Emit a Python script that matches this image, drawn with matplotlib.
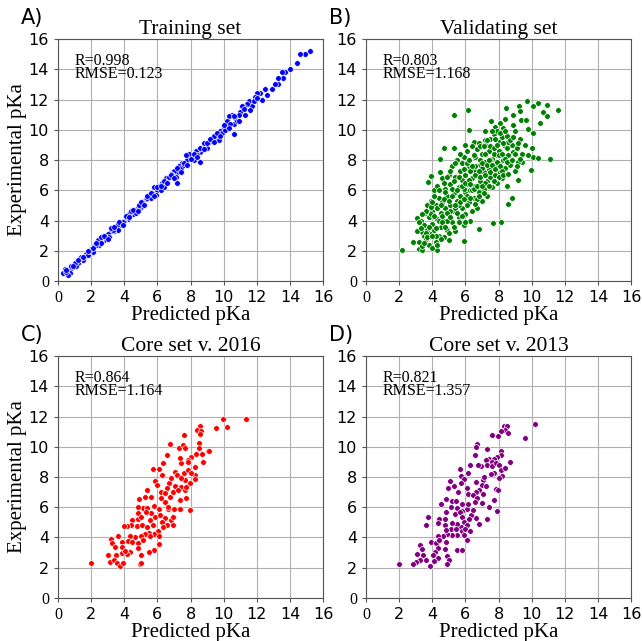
import numpy as np
import matplotlib
matplotlib.use("Agg")
import matplotlib.pyplot as plt

# ---- data (predicted, experimental) ----
train_x = [15.2, 14.9, 14.6, 14.4, 14.0, 13.7, 13.5, 13.6, 13.3, 13.3, 13.1, 12.9, 12.5, 12.6, 12.2,
           12.0, 11.9, 11.7, 11.5, 11.4, 11.2, 11.1, 11.0, 10.9, 10.7, 10.5, 10.3, 10.2, 10.6, 10.4,
           10.0, 9.8, 9.6, 9.5, 9.7, 9.3, 9.1, 8.9, 8.6, 8.5, 8.3, 8.1, 7.9, 7.8, 7.7, 7.5, 7.3, 7.2,
           7.0, 6.9, 6.8, 6.6, 6.5, 6.3, 6.1, 6.0, 5.8, 5.7, 5.6, 5.5, 5.3, 5.1, 5.0, 4.8, 4.6, 4.5,
           4.3, 4.2, 4.0, 3.9, 3.7, 3.5, 3.4, 3.2, 3.0, 2.9, 2.8, 2.6, 2.5, 2.4, 2.2, 2.0, 1.9, 1.7,
           1.6, 1.5, 1.3, 1.2, 1.0, 0.9, 0.7, 0.7, 0.6, 0.4, 0.3,
           10.6, 8.6, 7.2, 11.8, 10.8, 9.9, 9.0, 8.8, 8.2, 7.4, 7.1, 6.7, 6.2, 5.9, 5.4, 5.2, 4.9,
           4.4, 4.1, 3.8, 3.6, 3.3, 3.1, 2.7, 2.3, 2.1, 1.8, 1.4, 1.1, 0.8, 12.3, 11.3, 10.1, 9.4,
           8.4, 7.6, 6.4, 5.6, 4.7, 3.6, 2.6, 1.9, 1.0, 0.5,
           0.5, 0.9, 1.2, 1.5, 1.8, 2.1, 2.3, 2.6, 2.8, 3.0, 3.2, 3.4, 3.7, 3.9, 4.1, 4.3, 4.5, 4.8,
           5.0, 5.2, 5.4, 5.6, 5.8, 6.0, 6.2, 6.4, 6.6, 6.8, 7.0, 7.2, 7.4, 7.6, 7.8, 8.0, 8.2, 8.4,
           8.6, 8.8, 9.0, 9.2, 9.4, 9.6, 9.8, 10.0, 10.3, 10.6, 10.9, 11.2, 11.6, 12.0]
train_y = [15.2, 15.0, 15.0, 14.4, 14.0, 13.8, 13.8, 13.4, 13.4, 13.0, 13.0, 12.7, 12.7, 12.3, 12.4,
           12.4, 12.2, 11.6, 11.9, 11.7, 11.5, 11.6, 11.2, 11.0, 10.8, 11.0, 10.9, 10.6, 10.4, 10.4,
           10.2, 9.9, 9.7, 9.5, 9.3, 9.3, 9.2, 9.0, 8.5, 8.7, 8.6, 8.2, 8.4, 8.0, 8.3, 7.8, 7.6, 7.2,
           7.3, 7.0, 7.1, 6.7, 6.8, 6.5, 6.3, 6.0, 6.2, 5.8, 5.6, 5.7, 5.4, 5.2, 4.9, 4.8, 4.7, 4.4,
           4.4, 4.1, 4.0, 3.9, 3.7, 3.6, 3.3, 3.3, 3.1, 2.9, 2.7, 2.6, 2.4, 2.7, 2.3, 2.1, 1.9, 1.8,
           1.6, 1.4, 1.5, 1.2, 1.1, 0.9, 0.8, 0.5, 0.4, 0.8, 0.5,
           9.7, 7.9, 6.5, 11.9, 10.6, 9.8, 8.8, 9.1, 8.0, 7.5, 6.9, 6.9, 6.0, 5.7, 5.5, 5.0, 5.0,
           4.6, 4.2, 3.7, 3.4, 3.4, 2.9, 2.9, 2.4, 1.9, 1.7, 1.6, 1.0, 1.0, 12.0, 11.0, 10.0, 9.6,
           8.3, 7.7, 6.2, 5.5, 4.5, 3.8, 2.5, 2.0, 1.2, 0.6,
           0.7, 1.0, 1.4, 1.6, 2.0, 2.2, 2.5, 2.9, 3.0, 2.8, 3.5, 3.6, 3.9, 3.7, 4.3, 4.2, 4.7, 4.6,
           5.2, 5.0, 5.6, 5.8, 5.6, 6.2, 6.3, 6.6, 6.5, 7.0, 6.8, 7.5, 7.2, 7.8, 7.7, 8.1, 8.4, 8.2,
           8.8, 8.7, 9.1, 9.4, 9.2, 9.8, 9.6, 10.3, 10.1, 10.9, 10.6, 11.4, 11.3, 12.1]

valid_x = [2.16, 9.7, 10.36, 10.9, 10.06, 11.6, 10.7, 10.92, 10.5, 5.3, 6.18, 8.48, 9.24, 9.28,
           8.88, 8.4, 10.1, 6.2, 9.36, 9.64, 9.8, 7.56, 7.16, 7.8, 8.1, 8.9, 4.74, 5.34, 6.0, 6.54,
           6.9, 7.2, 10.04, 10.06, 10.4, 11.12, 9.94, 9.44, 9.2, 8.8, 8.6, 8.16, 7.64, 6.8, 5.9,
           4.46, 4.46, 3.94, 3.76, 3.06, 2.84, 3.2, 3.36, 4.3, 3.54, 3.4,
           3.1, 3.2, 3.3, 3.4, 3.5, 3.5, 3.6, 3.6, 3.7, 3.7, 3.8, 3.8, 3.9, 3.9, 4.0, 4.0, 4.0, 4.1,
           4.1, 4.2, 4.2, 4.3, 4.3, 4.4, 4.4, 4.5, 4.5, 4.6, 4.6, 4.7, 4.7, 4.8, 4.8, 4.9, 4.9, 5.0,
           5.0, 5.0, 5.1, 5.1, 5.2, 5.2, 5.3, 5.3, 5.4, 5.4, 5.5, 5.5, 5.6, 5.6, 5.7, 5.7, 5.8, 5.8,
           5.9, 5.9, 6.0, 6.0, 6.0, 6.1, 6.1, 6.2, 6.2, 6.3, 6.3, 6.4, 6.4, 6.5, 6.5, 6.6, 6.6, 6.7,
           6.7, 6.8, 6.8, 6.9, 6.9, 7.0, 7.0, 7.1, 7.1, 7.2, 7.2, 7.3, 7.3, 7.4, 7.4, 7.5, 7.5, 7.6,
           7.6, 7.7, 7.7, 7.8, 7.8, 7.9, 7.9, 8.0, 8.0, 8.1, 8.1, 8.2, 8.2, 8.3, 8.3, 8.4, 8.4, 8.5,
           8.5, 8.6, 8.7, 8.8, 8.9, 9.0, 9.0, 9.1, 9.2, 9.3, 9.4, 9.6, 9.8, 3.3, 3.9, 4.4, 4.9, 5.6,
           6.1, 6.6, 7.0, 7.5, 5.4, 4.2, 6.9, 5.8, 6.3, 4.6, 5.2, 7.9, 6.4, 7.2, 8.6, 4.0, 3.6, 5.9,
           6.7, 7.7, 5.1, 4.8, 8.0,
           3.2, 3.4, 3.5, 3.7, 3.8, 3.9, 4.0, 4.1, 4.1, 4.2, 4.3, 4.3, 4.4, 4.5, 4.5, 4.6, 4.7, 4.7,
           4.8, 4.9, 4.9, 5.0, 5.0, 5.1, 5.1, 5.2, 5.3, 5.3, 5.4, 5.4, 5.5, 5.5, 5.6, 5.6, 5.7, 5.7,
           5.8, 5.8, 5.9, 5.9, 6.0, 6.0, 6.1, 6.1, 6.2, 6.2, 6.3, 6.3, 6.4, 6.4, 6.5, 6.5, 6.6, 6.6,
           6.7, 6.7, 6.8, 6.8, 6.9, 6.9, 7.0, 7.0, 7.1, 7.1, 7.2, 7.2, 7.3, 7.3, 7.4, 7.4, 7.5, 7.5,
           7.6, 7.6, 7.7, 7.7, 7.8, 7.8, 7.9, 7.9, 8.0, 8.0, 8.1, 8.1, 8.2, 8.2, 8.3, 8.3, 8.4, 8.4,
           8.5, 8.5, 8.6, 8.7, 8.8, 8.9, 9.0, 9.1, 9.2, 9.3]
valid_y = [2.02, 11.9, 11.74, 11.67, 11.6, 11.3, 11.19, 10.9, 10.46, 11.0, 11.34, 11.45, 11.56,
           11.23, 11.0, 10.68, 9.76, 10.0, 10.64, 10.62, 10.02, 10.57, 9.91, 10.2, 10.42, 10.3,
           8.81, 8.77, 8.99, 9.2, 8.88, 9.32, 8.77, 8.18, 8.15, 8.04, 7.36, 7.89, 6.68, 5.52, 5.08,
           3.91, 3.85, 3.43, 2.66, 8.04, 7.23, 6.95, 6.53, 4.15, 2.55, 2.11, 2.07, 2.07, 4.47, 3.27,
           3.3, 2.6, 4.0, 2.3, 3.0, 3.7, 4.6, 2.8, 3.4, 5.0, 2.4, 4.2, 3.1, 5.3, 2.2, 3.8, 4.6, 6.0,
           3.4, 2.6, 5.0, 4.1, 6.3, 3.0, 5.5, 4.5, 3.6, 6.8, 5.2, 2.9, 4.0, 6.1, 4.8, 3.4, 5.6, 7.0,
           4.4, 2.7, 6.4, 5.0, 3.9, 7.6, 5.8, 4.6, 6.9, 3.3, 5.3, 8.0, 6.2, 4.2, 7.3, 5.6, 4.8, 6.7,
           3.7, 8.2, 5.9, 7.0, 4.4, 6.4, 8.6, 5.2, 7.6, 6.0, 4.0, 6.8, 8.9, 5.5, 7.3, 6.3, 8.2, 4.8,
           7.0, 5.9, 9.1, 7.7, 6.6, 5.3, 8.4, 7.2, 6.1, 9.0, 7.9, 6.6, 5.6, 8.6, 7.4, 9.4, 6.9, 8.1,
           6.2, 7.6, 9.7, 8.8, 7.0, 8.3, 6.5, 9.2, 7.8, 8.6, 7.2, 9.5, 6.8, 8.0, 10.1, 7.5, 8.9, 9.6,
           6.3, 8.3, 7.7, 9.0, 8.5, 7.3, 9.9, 8.8, 7.9, 9.4, 8.4, 9.0, 8.3, 3.5, 4.9, 4.0, 4.0, 5.0,
           5.6, 7.6, 7.5, 8.0, 4.8, 3.0, 8.0, 7.8, 7.3, 4.3, 6.1, 9.9, 6.0, 6.5, 9.2, 5.2, 3.2, 6.1,
           5.4, 8.4, 4.6, 5.9, 8.6,
           3.9, 4.4, 2.5, 2.9, 3.6, 4.4, 3.0, 5.6, 4.3, 3.5, 4.8, 2.4, 6.0, 5.0, 2.8, 3.9, 5.4, 6.5,
           3.6, 4.5, 6.9, 5.3, 3.2, 7.3, 4.2, 5.6, 6.6, 3.6, 5.0, 7.8, 4.5, 6.0, 6.9, 3.9, 5.2, 8.4,
           6.3, 4.3, 7.4, 5.4, 6.5, 3.9, 7.8, 5.0, 6.7, 8.0, 5.5, 6.4, 7.6, 4.6, 8.3, 6.1, 7.0, 5.1,
           8.7, 6.3, 7.3, 5.6, 8.9, 6.9, 6.3, 7.8, 8.9, 5.8, 7.0, 8.4, 7.7, 9.3, 6.3, 8.0, 7.2, 8.9,
           7.7, 9.9, 6.6, 8.8, 7.4, 9.4, 7.9, 9.0, 8.3, 6.9, 9.8, 7.6, 8.4, 7.3, 9.1, 7.0, 8.1, 9.9,
           7.9, 8.8, 7.1, 9.3, 8.0, 9.5, 8.4, 7.6, 9.1, 8.1]

core16_x = [2.0, 11.34, 9.98, 10.18, 9.54, 8.56, 8.4, 8.64, 8.56, 7.62, 6.74, 6.58, 7.28, 7.54,
            7.68, 8.54, 8.5, 9.04, 9.14, 8.68, 8.3, 8.04, 8.74, 8.24, 8.28, 8.28, 7.94, 7.96, 7.36,
            7.0, 7.34, 7.74, 6.32, 5.74, 6.08, 6.28, 5.84, 5.96, 5.38, 6.2, 6.72, 7.04, 7.44, 7.84,
            7.34, 7.58, 7.84, 8.04, 7.08, 7.44, 7.64, 7.68, 5.64, 5.28, 4.9, 5.78, 6.44, 6.74, 6.24,
            6.64, 6.08, 5.84, 6.14, 6.48, 6.8, 6.94, 6.6, 6.28, 5.54, 5.14, 5.4, 4.84, 4.44, 4.8,
            4.4, 4.14, 4.0, 4.74, 5.08, 5.4, 5.74, 6.04, 5.8, 5.5, 5.24, 5.0, 4.64, 4.34, 4.24, 4.44,
            4.8, 6.08, 6.1, 5.8, 5.5, 5.04, 4.84, 4.34, 4.14, 3.84, 3.64, 3.18, 3.28, 3.44, 3.84,
            3.84, 3.48, 2.99, 3.14, 3.4, 3.54, 3.74, 3.94, 4.94, 5.04, 4.04, 6.94, 6.6, 6.48, 6.84,
            7.2, 7.4, 7.74, 7.84, 7.24, 5.64, 5.04, 5.34, 6.64, 6.94, 6.34, 4.8, 5.14, 5.56]
core16_y = [2.3, 11.86, 11.83, 11.33, 11.22, 11.37, 11.1, 11.04, 10.82, 10.78, 10.16, 9.46, 9.9,
            10.12, 9.94, 10.27, 9.94, 9.72, 9.72, 9.54, 9.54, 9.35, 8.97, 8.69, 8.13, 7.85, 7.58,
            5.82, 5.89, 5.87, 6.48, 6.59, 8.91, 8.51, 8.51, 8.13, 7.76, 7.49, 7.14, 7.03, 7.63,
            8.35, 8.9, 9.12, 9.23, 8.29, 8.46, 8.24, 7.41, 7.36, 7.14, 7.8, 6.65, 6.65, 6.52, 6.09,
            6.37, 6.7, 6.59, 5.87, 5.87, 5.38, 5.49, 5.31, 5.16, 4.83, 4.83, 5.05, 5.16, 5.98, 5.98,
            5.6, 5.16, 5.2, 4.83, 4.78, 4.76, 4.76, 4.83, 4.72, 4.83, 4.43, 4.23, 4.32, 4.23, 4.1,
            4.06, 4.1, 3.8, 3.67, 3.62, 4.12, 3.55, 3.18, 3.07, 2.85, 3.29, 3.07, 2.91, 3.73, 4.1,
            3.9, 3.62, 3.4, 3.34, 2.96, 2.85, 2.85, 2.41, 2.52, 2.3, 2.12, 2.34, 2.25, 2.3, 3.11,
            7.03, 7.25, 6.92, 7.91, 8.13, 7.91, 7.36, 9.01, 7.14, 5.6, 5.38, 5.71, 6.04, 5.38, 4.72,
            6.04, 3.84, 4.1]

core13_x = [2.0, 10.18, 9.62, 8.32, 8.54, 8.42, 8.12, 8.56, 7.98, 7.58, 6.72, 6.62, 7.28, 6.56,
            8.16, 8.18, 8.68, 7.92, 7.42, 7.72, 7.62, 7.22, 7.32, 7.62, 7.82, 8.02, 8.12, 8.42,
            8.22, 8.02, 7.72, 6.92, 6.76, 6.26, 5.68, 6.18, 5.74, 5.92, 5.72, 5.06, 5.32, 4.96,
            6.12, 6.18, 6.62, 7.06, 7.12, 6.98, 7.22, 7.52, 7.82, 7.98, 6.82, 7.06, 6.62, 6.46,
            6.72, 6.56, 6.98, 7.42, 7.72, 7.88, 7.32, 6.82, 6.66, 6.32, 6.48, 6.08, 6.18, 5.82,
            5.58, 5.22, 5.42, 4.86, 4.52, 5.12, 5.52, 5.82, 5.38, 4.86, 5.66, 5.82, 6.22, 5.92,
            6.12, 5.72, 5.52, 5.18, 4.78, 4.38, 4.36, 4.76, 5.12, 5.42, 5.78, 5.92, 5.52, 5.18,
            4.92, 4.62, 4.32, 4.82, 6.12, 3.72, 3.62, 3.92, 4.22, 4.42, 4.82, 4.78, 4.32, 4.18,
            3.26, 3.38, 3.06, 3.42, 3.28, 3.02, 2.86, 3.62, 4.02, 4.32, 4.08, 3.86, 4.92, 5.02,
            4.88, 5.48, 5.78, 5.98, 6.26]
core13_y = [2.27, 11.53, 10.6, 11.37, 11.37, 11.08, 11.04, 10.9, 10.69, 10.8, 10.16, 9.98, 9.87,
            9.43, 9.72, 9.48, 8.99, 9.32, 9.21, 9.21, 8.99, 9.1, 8.81, 8.72, 8.94, 8.77, 8.44,
            8.61, 8.04, 7.95, 8.26, 8.7, 8.77, 8.81, 8.5, 8.26, 8.04, 7.88, 7.6, 7.73, 7.4, 7.29,
            7.29, 6.9, 7.67, 7.78, 8.0, 7.45, 7.4, 8.22, 7.23, 7.12, 7.12, 6.9, 7.01, 6.79, 6.61,
            6.35, 6.3, 6.02, 6.5, 5.75, 5.19, 4.91, 5.28, 5.46, 5.79, 5.9, 6.24, 6.24, 7.01, 6.39,
            6.39, 6.52, 6.24, 5.99, 5.93, 5.77, 5.55, 5.66, 5.66, 5.35, 5.24, 5.02, 4.8, 4.69, 4.91,
            4.96, 5.2, 5.24, 4.96, 4.8, 4.58, 4.53, 4.4, 4.18, 4.14, 4.14, 4.25, 4.09, 4.09, 4.47,
            3.81, 5.35, 4.8, 3.69, 3.62, 3.84, 3.69, 3.22, 3.31, 3.04, 3.48, 3.22, 2.93, 2.86, 2.53,
            2.38, 2.22, 2.48, 2.86, 2.64, 2.42, 2.09, 2.77, 2.49, 2.27, 3.15, 3.2, 4.58, 4.4]

panels = [("A)", "Training set", train_x, train_y, "#0000ff", "R=0.998\nRMSE=0.123"),
          ("B)", "Validating set", valid_x, valid_y, "#008000", "R=0.803\nRMSE=1.168"),
          ("C)", "Core set v. 2016", core16_x, core16_y, "#ff0000", "R=0.864\nRMSE=1.164"),
          ("D)", "Core set v. 2013", core13_x, core13_y, "#800080", "R=0.821\nRMSE=1.357")]

serif = "Liberation Serif"
fig = plt.figure(figsize=(6.42, 6.41), dpi=100)
lefts = [0.0903, 0.570]
bottoms = [0.5616, 0.0671]
ticks = np.arange(0, 17, 2)

for i, (lab, title, xs, ys, col, txt) in enumerate(panels):
    ax = fig.add_axes([lefts[i % 2], bottoms[i // 2], 0.413, 0.3775])
    ax.set_axisbelow(True)
    ax.grid(True, color="#b0b0b0", linewidth=0.8)
    ax.scatter(xs, ys, s=17, c=col, edgecolors="white", linewidths=0.5, zorder=3)
    ax.set_xlim(0, 16)
    ax.set_ylim(0, 16)
    ax.set_xticks(ticks)
    ax.set_yticks(ticks)
    ax.tick_params(labelsize=11.5, length=3, color="#555555")
    for sp in ax.spines.values():
        sp.set_color("#555555")
    ax.get_xticklabels()[0].set_fontfamily(serif)
    ax.get_yticklabels()[0].set_fontfamily(serif)
    ax.set_title(title, fontsize=15.5, family=serif, pad=3)
    ax.set_xlabel("Predicted pKa", fontsize=15, family=serif, labelpad=0)
    if i % 2 == 0:
        ax.set_ylabel("Experimental pKa", fontsize=15, family=serif, labelpad=1)
    ax.text(1.03, 13.45, txt, fontsize=11.5, family=serif, va="baseline", linespacing=0.68)
    ax.text(-0.14, 1.045, lab, transform=ax.transAxes, fontsize=15, ha="left", va="bottom")

fig.savefig("out.png", dpi=100)
